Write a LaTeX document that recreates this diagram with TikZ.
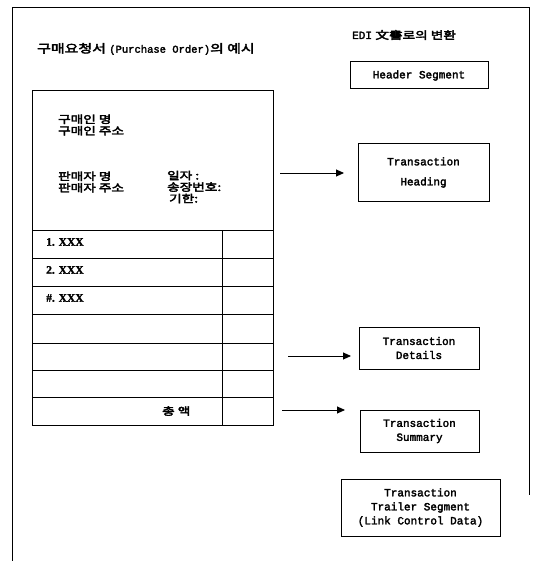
\documentclass[tikz,border=0pt]{standalone}
\usepackage{fontspec}
\usetikzlibrary{arrows.meta}
\newfontfamily\kr[FakeStretch=1.3,FakeBold=3.5]{Noto Sans CJK KR}
\newfontfamily\mono[FakeBold=2.5]{Liberation Mono}
\newfontfamily\xser[FakeBold=1.5]{Liberation Serif}
\tikzset{
  frameline/.style={line width=0.8pt},
  formline/.style={line width=0.9pt},
  segbox/.style={draw, line width=1pt, minimum width=#1, inner sep=0pt, align=center, font=\mono\fontsize{11}{14}\selectfont},
  segbox/.default=120pt,
  lbl/.style={anchor=west, inner sep=0pt, align=left},
  krt/.style={lbl, font=\kr\fontsize{10.5}{11.5}\selectfont},
  arr/.style={line width=0.9pt, -{Triangle[length=8pt,width=7pt]}}
}
\begin{document}
\begin{tikzpicture}[x=1pt,y=-1pt]
\useasboundingbox (0,0) rectangle (532,561);
% outer frame
\coordinate (fTR) at (529,7);
\coordinate (fTL) at (12,7);
\coordinate (fBL) at (12,561);
\coordinate (fBR) at (529,495);
\draw[frameline] (fBL) -- (fTL) -- (fTR) -- (fBR);

% titles
\node[lbl] (title) at (37,49) {\kr\fontsize{11.5}{13}\selectfont 구매요청서 {\mono\fontsize{10.5}{12}\selectfont(Purchase Order)}의 예시};
\node[lbl] (edi) at (352,35) {{\mono\fontsize{11}{12}\selectfont EDI} {\kr\fontsize{10.5}{12}\selectfont 文書로의 변환}};

% form
\coordinate (a) at (32,90);
\coordinate (b) at (273,425);
\coordinate (div) at (222,230);
\draw[formline] (a) rectangle (b);
\foreach \y in {230,258,286,314,343,370,397}{
  \draw[formline] (32,\y) -- (273,\y);
}
\draw[formline] (div) -- (div |- b);

\node[krt] (buyer) at (58,125) {구매인 명\\구매인 주소};
\node[krt] (seller) at (58,182) {판매자 명\\판매자 주소};
\node[krt] (dates) at (167,187) {일자 :\\송장번호:\\\hspace{2pt}기한:};

\node[lbl, font=\xser\bfseries\fontsize{11.5}{12}\selectfont] (r1) at (46,242) {1. XXX};
\node[lbl, font=\xser\bfseries\fontsize{11.5}{12}\selectfont] (r2) at (46,270) {2. XXX};
\node[lbl, font=\xser\bfseries\fontsize{11.5}{12}\selectfont] (r3) at (46,298) {\#. XXX};
\node[krt] (total) at (162,411) {총 액};

% right boxes
\node[segbox=138pt, minimum height=27pt] (hdr) at (419,75.5) {Header Segment};
\node[segbox=131pt, minimum height=57pt] (th) at (423.5,172.5) {Transaction\\[6pt]Heading};
\node[segbox=120pt, minimum height=42pt] (td) at (419,348) {Transaction\\Details};
\node[segbox=119pt, minimum height=42pt] (ts) at (419.5,431) {Transaction\\Summary};
\node[segbox=159pt, minimum height=57pt] (tt) at (420.5,507.5) {Transaction\\Trailer Segment\\(Link Control Data)};

% arrows
\coordinate (s1) at (280,173);
\coordinate (e1) at (344,173);
\coordinate (s2) at (288,356);
\coordinate (e2) at (351,356);
\coordinate (s3) at (282,410);
\coordinate (e3) at (345,410);
\draw[arr] (s1) -- (e1);
\draw[arr] (s2) -- (e2);
\draw[arr] (s3) -- (e3);
\end{tikzpicture}
\end{document}
